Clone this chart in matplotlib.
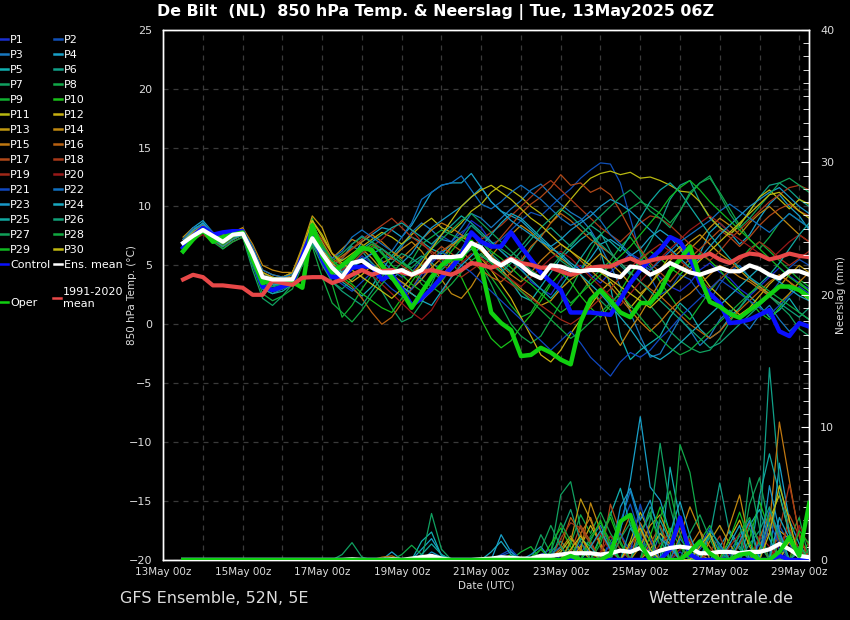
import matplotlib
matplotlib.use('Agg')
import matplotlib.pyplot as plt
import matplotlib.dates as mdates
from matplotlib.lines import Line2D
from matplotlib.ticker import MultipleLocator
import pandas as pd

# time axis: 13May 12Z onwards, one value every 6 h
times = pd.date_range('2025-05-13 12:00', periods=64, freq='6h')

# ---------------- 850 hPa temperature (degC), members ----------------
t_p01 = [6.8, 7.8, 8.2, 7.5, 7.2, 7.8, 7.7, 5.0, 3.4, 3.0, 3.3, 4.0, 6.0, 7.8, 5.6, 4.2,
         4.5, 5.0, 5.8, 5.2, 4.3, 4.0, 3.5, 3.0, 3.8, 5.2, 6.0, 6.8, 7.5, 8.8, 8.2, 7.0,
         6.2, 5.5, 4.8, 3.6, 3.0, 2.5, 3.8, 4.6, 5.0, 4.2, 3.5, 4.4, 5.2, 6.0, 5.5, 4.8,
         4.0, 3.2, 2.8, 3.5, 4.6, 5.2, 4.4, 3.9, 3.0, 2.4, 3.2, 4.0, 4.8, 4.1, 3.5, 3.0]
t_p02 = [7.0, 8.0, 8.5, 7.8, 7.0, 7.5, 7.9, 6.0, 3.8, 3.2, 3.0, 3.6, 5.2, 7.0, 6.0, 4.8,
         4.2, 4.8, 5.5, 6.0, 5.4, 4.6, 4.0, 4.4, 5.5, 6.6, 7.5, 7.0, 7.8, 8.4, 7.6, 6.8,
         7.2, 8.0, 8.8, 9.5, 9.2, 10.0, 10.8, 11.5, 12.4, 13.1, 13.7, 13.6, 12.0, 9.0, 6.0, 4.0,
         2.5, 3.0, 4.2, 3.8, 2.6, 2.0, 3.4, 4.5, 5.0, 4.0, 3.2, 2.5, 3.6, 4.8, 5.5, 5.0]
t_p03 = [6.5, 7.6, 8.3, 7.2, 6.8, 7.4, 7.5, 5.2, 3.0, 2.6, 3.0, 3.8, 5.8, 8.6, 6.8, 5.0,
         5.5, 6.8, 7.5, 7.0, 6.0, 5.5, 6.6, 7.8, 8.6, 8.0, 7.2, 7.0, 8.2, 9.4, 9.0, 8.2,
         9.0, 9.8, 10.5, 11.4, 11.9, 11.0, 10.2, 9.5, 9.0, 8.0, 6.6, 5.0, 3.2, 1.0, -1.0, -2.8,
         -2.5, -1.0, 0.5, -0.5, -1.8, -1.0, 0.4, 1.2, 0.5, -0.4, 0.8, 1.6, 0.4, -0.6, 0.2, -0.2]
t_p04 = [7.2, 8.2, 8.8, 7.8, 7.2, 7.6, 7.8, 6.2, 4.0, 3.6, 3.2, 3.8, 5.0, 7.2, 6.2, 5.0,
         4.6, 5.6, 7.0, 7.6, 8.2, 8.0, 7.4, 8.4, 9.8, 11.2, 11.8, 12.0, 12.0, 12.8, 11.6, 10.4,
         9.6, 9.2, 8.8, 8.0, 7.2, 6.4, 6.0, 5.2, 4.6, 5.6, 6.8, 7.2, 6.6, 5.8, 6.4, 7.4,
         8.0, 7.4, 6.4, 5.2, 6.0, 7.8, 8.6, 7.8, 6.8, 7.6, 9.0, 10.2, 11.0, 10.0, 9.2, 8.0]
t_p05 = [6.6, 7.6, 8.6, 7.6, 7.0, 7.6, 7.8, 5.4, 3.6, 3.2, 3.8, 4.4, 6.2, 7.2, 5.4, 4.4,
         3.6, 3.0, 2.4, 3.2, 4.6, 5.8, 6.8, 7.4, 7.0, 6.4, 6.0, 6.8, 7.4, 7.8, 6.6, 5.6,
         4.8, 3.6, 2.4, 2.0, 3.2, 4.4, 5.6, 6.4, 7.2, 7.8, 6.2, 3.2, -1.0, -3.0, -2.2, -1.6,
         -1.0, 0.6, 1.8, 1.0, -0.4, -1.2, -0.6, 0.6, 1.4, 2.4, 1.6, 0.6, 1.2, 2.2, 1.0, 0.4]
t_p06 = [6.4, 7.4, 8.0, 7.4, 6.8, 7.2, 7.6, 6.0, 4.4, 3.8, 3.4, 3.6, 5.0, 6.8, 6.0, 5.0,
         5.6, 6.6, 6.2, 5.2, 4.4, 3.8, 4.6, 5.2, 5.8, 5.2, 4.6, 5.4, 6.4, 7.6, 7.0, 6.0,
         5.2, 4.4, 5.2, 6.4, 7.6, 8.2, 7.4, 6.6, 7.6, 8.4, 7.8, 6.2, 5.0, 4.2, 5.6, 7.0,
         8.6, 10.6, 11.8, 12.2, 10.4, 9.0, 8.2, 7.6, 8.4, 9.6, 10.8, 11.8, 12.0, 11.4, 10.6, 10.0]
t_p07 = [6.0, 7.2, 8.4, 7.6, 6.4, 7.0, 7.4, 4.6, 2.2, 1.6, 2.4, 3.4, 5.6, 7.6, 5.2, 3.6,
         3.0, 3.8, 4.6, 4.2, 2.8, 1.4, 0.2, 0.6, 1.8, 3.4, 5.2, 6.6, 7.2, 8.4, 7.6, 7.0,
         6.4, 5.8, 6.6, 7.6, 7.0, 6.2, 5.4, 4.8, 4.2, 3.0, 2.0, 1.2, 2.4, 3.4, 2.6, 1.6,
         0.6, -0.6, -1.4, -2.0, -2.4, -2.2, -1.2, 0.2, 1.4, 2.6, 3.2, 2.4, 1.6, 0.8, -0.4, -1.0]
t_p08 = [6.6, 7.8, 8.0, 7.6, 7.4, 7.6, 8.0, 6.4, 3.8, 3.4, 3.8, 4.2, 6.4, 8.0, 6.6, 5.4,
         4.6, 5.2, 6.0, 6.6, 6.2, 5.0, 4.4, 5.4, 6.8, 7.4, 8.0, 7.6, 7.2, 6.6, 5.0, 3.4,
         1.6, 0.0, -1.0, -1.6, -1.0, 0.4, 1.8, 3.0, 4.6, 6.2, 7.6, 8.4, 9.2, 9.8, 10.4, 10.0,
         9.4, 8.6, 9.6, 11.0, 12.0, 12.4, 11.2, 9.8, 8.4, 7.2, 6.4, 7.4, 8.6, 9.4, 8.8, 8.2]
t_p09 = [6.2, 7.2, 7.8, 7.0, 6.6, 7.2, 7.6, 5.8, 3.2, 2.8, 3.0, 3.4, 6.0, 9.0, 6.2, 3.4,
         0.6, 1.6, 3.0, 4.2, 5.6, 6.2, 5.4, 4.6, 3.4, 2.8, 3.6, 4.8, 6.0, 6.6, 5.2, 4.0,
         2.8, 1.6, 0.6, 1.0, 2.4, 3.6, 2.8, 1.8, 2.6, 3.8, 4.6, 5.4, 6.6, 7.4, 6.2, 5.0,
         3.6, 2.4, 1.2, 0.4, 1.6, 2.8, 3.8, 4.6, 5.4, 6.4, 7.0, 6.2, 5.4, 4.6, 3.8, 3.2]
t_p10 = [6.4, 7.4, 8.0, 7.2, 6.8, 7.4, 7.8, 5.6, 3.6, 3.4, 3.6, 3.8, 5.6, 7.4, 5.4, 4.2,
         4.0, 3.4, 2.6, 2.0, 1.4, 1.0, 2.2, 3.6, 4.8, 5.6, 6.2, 5.4, 4.0, 2.2, 0.4, -1.2,
         -2.0, -1.4, -0.2, 0.8, 2.0, 3.4, 4.4, 3.6, 2.4, 1.4, 0.6, 1.6, 2.8, 4.2, 5.4, 6.2,
         5.6, 4.8, 4.2, 5.2, 6.0, 5.4, 4.6, 3.6, 2.8, 2.0, 1.0, 0.4, 1.4, 2.6, 3.6, 2.8]
t_p11 = [7.0, 7.8, 8.2, 7.4, 7.2, 7.8, 7.6, 5.6, 4.0, 3.8, 4.0, 4.4, 6.4, 8.8, 7.6, 6.0,
         5.4, 6.0, 6.6, 7.2, 7.8, 7.4, 6.8, 7.6, 8.4, 9.0, 8.2, 7.8, 8.6, 9.6, 10.2, 11.2,
         11.8, 11.4, 10.8, 10.0, 9.4, 8.6, 9.6, 10.6, 11.6, 12.4, 12.8, 13.0, 12.7, 12.9, 12.4, 12.5,
         12.2, 11.8, 11.3, 11.2, 10.4, 9.1, 8.2, 7.6, 8.4, 9.6, 10.8, 11.4, 10.6, 9.8, 10.6, 10.2]
t_p12 = [6.8, 7.6, 8.0, 7.2, 6.6, 7.2, 7.6, 6.2, 4.2, 3.6, 3.4, 4.0, 5.8, 7.6, 6.4, 5.2,
         4.4, 3.6, 4.2, 5.0, 4.6, 3.8, 3.2, 2.6, 2.0, 2.8, 4.0, 5.2, 5.8, 6.4, 5.6, 4.6,
         3.4, 2.2, 0.6, -1.0, -2.6, -3.2, -2.2, -0.8, 0.4, 1.6, 2.8, 3.6, 2.6, 1.4, 2.4, 3.4,
         4.6, 5.8, 6.6, 5.6, 4.4, 3.2, 2.4, 1.6, 0.8, 1.4, 2.4, 3.4, 4.2, 3.6, 2.8, 2.0]
t_p13 = [7.4, 8.2, 8.0, 7.6, 7.6, 8.0, 7.8, 6.4, 4.6, 4.2, 4.0, 4.4, 6.6, 9.2, 8.2, 6.0,
         5.0, 5.8, 6.4, 5.6, 4.6, 4.2, 3.6, 3.0, 3.8, 4.8, 5.6, 6.6, 7.4, 7.0, 6.2, 5.4,
         4.6, 3.8, 3.0, 2.4, 1.6, 2.0, 3.0, 3.8, 4.4, 5.2, 6.0, 5.2, 4.4, 3.4, 2.6, 3.4,
         4.4, 5.4, 6.2, 7.0, 7.6, 6.8, 6.0, 5.4, 4.6, 3.8, 3.2, 2.6, 3.2, 4.2, 5.0, 4.4]
t_p14 = [7.2, 8.0, 7.8, 7.4, 7.4, 7.8, 8.2, 6.8, 5.0, 4.6, 4.4, 4.4, 6.2, 8.4, 7.0, 5.6,
         6.4, 7.2, 6.8, 6.0, 5.2, 5.6, 6.4, 7.0, 6.2, 5.0, 3.8, 2.6, 2.2, 3.2, 4.6, 5.8,
         6.8, 7.6, 8.4, 7.8, 7.0, 6.2, 5.6, 5.0, 4.2, 3.0, 1.8, -0.6, -1.8, -0.4, 0.8, 2.2,
         3.6, 4.4, 5.4, 6.4, 7.2, 8.2, 9.0, 8.4, 7.6, 8.6, 9.4, 10.0, 9.2, 8.4, 7.6, 7.0]
t_p15 = [7.0, 7.8, 8.4, 7.6, 7.0, 7.4, 7.6, 5.8, 3.8, 3.6, 3.8, 4.2, 5.8, 7.2, 6.0, 5.2,
         5.8, 6.4, 7.0, 7.6, 7.0, 6.2, 5.6, 6.4, 7.2, 8.0, 8.6, 8.2, 7.6, 7.0, 6.4, 5.8,
         5.0, 4.2, 3.6, 4.4, 5.4, 6.2, 6.8, 6.2, 5.4, 4.6, 3.8, 3.2, 2.2, 1.2, 0.2, -0.6,
         0.2, 1.2, 2.0, 2.6, 3.4, 4.2, 5.0, 4.6, 4.0, 3.6, 3.0, 2.4, 1.8, 2.6, 3.6, 4.4]
t_p16 = [6.6, 7.4, 7.8, 7.0, 6.8, 7.4, 7.8, 6.0, 4.2, 3.8, 3.6, 3.8, 5.4, 7.0, 5.8, 4.6,
         3.8, 3.2, 2.2, 1.0, 0.0, 0.6, 1.8, 3.0, 4.4, 5.4, 6.2, 6.8, 6.2, 5.4, 4.6, 4.0,
         3.6, 4.4, 5.4, 6.6, 7.4, 8.6, 9.4, 8.8, 8.0, 7.2, 6.6, 6.0, 5.2, 4.4, 3.6, 3.0,
         2.4, 1.6, 0.8, 0.0, -0.6, -1.2, -0.6, 0.4, 1.2, 2.0, 2.8, 3.6, 4.2, 3.6, 3.0, 2.4]
t_p17 = [6.8, 7.6, 8.0, 7.4, 7.0, 7.6, 7.8, 6.2, 4.0, 3.6, 3.4, 3.8, 5.6, 7.8, 6.8, 5.6,
         5.0, 5.6, 6.2, 6.8, 6.4, 5.6, 5.0, 4.4, 5.0, 5.8, 6.6, 6.0, 5.4, 5.0, 5.6, 6.4,
         7.4, 8.4, 9.4, 10.2, 10.8, 11.6, 12.7, 11.8, 12.0, 11.2, 11.6, 11.0, 9.6, 8.0, 6.4, 5.2,
         4.4, 3.6, 4.6, 5.6, 6.4, 7.2, 8.0, 7.4, 6.6, 7.4, 8.4, 9.2, 9.8, 10.2, 9.6, 9.2]
t_p18 = [7.0, 7.8, 8.2, 7.6, 7.2, 7.6, 8.0, 6.4, 4.4, 4.0, 3.8, 4.0, 5.8, 8.2, 7.2, 6.0,
         5.6, 6.4, 7.2, 7.8, 8.4, 9.0, 8.2, 7.4, 6.8, 6.2, 5.6, 5.0, 5.8, 6.6, 7.2, 7.8,
         8.4, 9.2, 10.0, 10.8, 11.6, 12.2, 11.4, 10.6, 9.8, 9.0, 8.2, 7.6, 7.0, 7.8, 8.6, 9.2,
         9.0, 8.4, 7.6, 6.8, 6.2, 5.4, 6.2, 7.2, 8.0, 8.8, 9.6, 10.4, 11.0, 11.6, 11.8, 11.4]
t_p19 = [6.6, 7.4, 7.8, 7.2, 6.8, 7.2, 7.6, 5.8, 3.8, 3.4, 3.6, 3.8, 5.4, 7.0, 6.2, 5.0,
         4.6, 5.2, 6.0, 6.6, 7.2, 8.0, 8.8, 8.0, 7.0, 6.0, 5.2, 4.4, 4.0, 4.6, 5.2, 4.6,
         4.0, 3.4, 2.8, 2.2, 1.6, 1.0, 0.4, 0.0, 0.6, 1.4, 2.2, 3.0, 4.0, 4.8, 5.6, 6.2,
         6.8, 6.2, 5.4, 4.6, 3.8, 3.0, 3.8, 4.6, 5.4, 6.2, 7.0, 6.4, 5.6, 5.0, 5.6, 6.2]
t_p20 = [6.4, 7.2, 7.6, 7.0, 6.6, 7.0, 7.4, 5.4, 3.4, 3.0, 3.2, 3.6, 5.2, 6.6, 5.6, 4.4,
         3.6, 4.2, 4.8, 4.2, 3.4, 2.6, 1.8, 1.0, 0.4, 1.2, 2.6, 4.0, 5.2, 6.0, 5.6, 5.0,
         4.4, 3.8, 3.2, 4.0, 4.8, 5.6, 6.2, 5.6, 4.8, 4.0, 3.2, 2.4, 1.6, 2.6, 3.6, 4.6,
         5.6, 6.4, 7.2, 8.0, 8.6, 9.2, 8.6, 7.8, 7.2, 6.6, 6.0, 5.4, 6.2, 7.0, 7.6, 7.0]
t_p21 = [6.8, 7.8, 8.6, 7.8, 7.2, 7.6, 7.8, 5.4, 3.2, 2.8, 3.0, 3.6, 5.8, 7.6, 5.4, 4.0,
         3.4, 2.8, 3.6, 4.4, 3.8, 3.0, 2.4, 3.0, 4.2, 5.4, 6.2, 5.6, 5.0, 4.4, 3.6, 2.8,
         2.0, 1.2, 0.4, -0.6, -1.4, -2.2, -1.4, -0.6, -1.6, -2.8, -3.6, -4.4, -3.2, -2.4, -2.8, -2.2,
         -1.2, -0.4, 0.6, 1.4, 2.2, 3.0, 3.8, 3.2, 2.6, 2.0, 1.4, 0.8, 1.6, 2.4, 3.2, 2.6]
t_p22 = [7.2, 8.2, 8.4, 7.6, 7.4, 7.8, 8.0, 6.6, 4.6, 4.2, 4.0, 4.2, 6.0, 7.4, 6.4, 5.6,
         6.2, 7.4, 8.0, 7.4, 6.8, 6.2, 7.4, 8.6, 10.6, 11.2, 11.8, 12.0, 12.6, 11.4, 10.2, 9.8,
         10.4, 11.2, 11.8, 11.2, 10.6, 9.8, 9.0, 8.4, 8.8, 9.6, 8.8, 7.6, 6.8, 6.0, 5.2, 4.6,
         5.4, 6.2, 7.0, 7.6, 8.2, 8.8, 9.6, 10.2, 9.6, 9.0, 8.4, 7.8, 8.6, 9.4, 8.8, 8.2]
t_p23 = [6.6, 7.6, 8.2, 7.4, 7.0, 7.4, 7.6, 5.6, 3.6, 3.2, 3.4, 3.8, 5.6, 7.2, 6.0, 4.8,
         4.2, 4.8, 5.4, 6.0, 6.4, 5.8, 5.2, 6.0, 7.2, 8.2, 8.8, 9.4, 10.0, 10.8, 11.6, 10.4,
         9.6, 8.8, 8.2, 7.6, 7.0, 6.6, 7.2, 8.0, 8.6, 9.2, 10.0, 10.6, 10.2, 9.6, 8.8, 8.0,
         7.2, 6.4, 5.6, 4.8, 5.6, 6.6, 7.6, 8.4, 9.2, 10.0, 10.6, 11.2, 11.6, 10.8, 10.0, 9.4]
t_p24 = [7.0, 8.0, 8.6, 7.6, 7.0, 7.6, 7.8, 6.0, 3.8, 3.4, 3.4, 4.0, 5.8, 7.4, 6.2, 5.0,
         4.4, 5.0, 5.6, 5.0, 4.4, 3.8, 3.2, 2.6, 2.0, 1.6, 2.8, 4.0, 5.0, 5.8, 6.6, 7.6,
         8.6, 9.4, 9.0, 8.2, 7.4, 6.6, 5.8, 5.0, 4.2, 3.4, 2.6, 1.6, 0.6, -0.4, -1.6, -2.6,
         -3.0, -2.4, -1.6, -0.8, 0.0, 0.8, 1.6, 2.4, 3.2, 4.0, 4.8, 4.2, 3.6, 3.0, 2.4, 2.0]
t_p25 = [6.4, 7.4, 8.0, 7.2, 6.6, 7.2, 7.6, 5.2, 3.0, 2.6, 2.8, 3.4, 5.4, 7.0, 5.4, 4.0,
         4.8, 5.6, 6.4, 7.0, 7.6, 8.2, 8.6, 8.0, 7.4, 6.8, 7.6, 8.4, 9.2, 8.6, 7.8, 7.0,
         6.2, 5.4, 4.6, 3.8, 3.0, 2.2, 3.2, 4.4, 5.6, 6.8, 7.6, 7.0, 6.2, 7.6, 9.0, 10.4,
         11.4, 12.0, 11.2, 10.0, 8.8, 7.6, 6.6, 5.6, 4.8, 4.0, 3.4, 4.2, 5.2, 6.4, 7.6, 8.6]
t_p26 = [6.8, 7.6, 8.2, 7.4, 7.0, 7.6, 7.6, 5.4, 3.4, 3.0, 3.2, 3.6, 5.4, 6.8, 5.0, 3.6,
         2.8, 2.2, 1.6, 2.8, 4.0, 5.2, 6.0, 5.6, 5.0, 4.4, 3.8, 4.6, 5.6, 6.4, 5.8, 5.2,
         4.4, 5.2, 6.2, 7.2, 8.2, 9.0, 9.8, 9.2, 8.4, 7.6, 6.8, 6.0, 5.2, 4.4, 3.6, 2.8,
         2.0, 1.2, 0.4, -0.4, -1.2, -2.0, -1.6, -0.8, 0.0, 0.8, 1.6, 2.4, 1.8, 1.2, 0.6, 1.4]
t_p27 = [6.6, 7.6, 8.0, 7.2, 6.8, 7.4, 7.8, 5.8, 3.6, 3.2, 3.4, 3.8, 5.6, 7.6, 6.6, 5.4,
         6.0, 6.8, 7.4, 7.0, 6.4, 5.8, 5.2, 4.8, 5.6, 6.4, 7.2, 8.0, 8.8, 9.4, 8.6, 7.8,
         7.0, 6.2, 5.4, 4.6, 4.0, 4.8, 5.8, 6.8, 7.6, 8.4, 9.2, 10.0, 10.8, 11.4, 10.6, 9.6,
         9.0, 8.2, 9.6, 11.2, 12.0, 12.6, 11.0, 9.4, 8.2, 9.0, 10.0, 11.0, 12.0, 12.4, 11.8, 11.2]
t_p28 = [6.2, 7.2, 7.8, 7.0, 6.4, 7.0, 7.4, 5.0, 2.6, 2.0, 2.4, 3.0, 5.0, 6.6, 4.0, 1.8,
         1.0, 0.2, 1.2, 2.4, 3.4, 4.4, 5.2, 4.6, 3.8, 3.2, 2.6, 3.4, 4.4, 5.4, 6.0, 5.2,
         4.4, 3.6, 2.8, 2.0, 1.2, 0.4, -0.4, -1.2, -0.6, 0.2, 1.0, 1.8, 2.6, 1.6, 0.6, -0.4,
         -1.2, -2.0, -2.6, -2.2, -1.4, -0.6, 0.2, 1.0, 1.8, 2.6, 3.4, 2.8, 2.2, 1.6, 1.0, 0.4]
t_p29 = [6.4, 7.4, 8.2, 7.4, 6.8, 7.4, 7.8, 5.6, 3.4, 3.0, 3.2, 3.6, 6.0, 8.6, 6.8, 5.4,
         4.8, 5.4, 6.2, 6.8, 6.0, 5.0, 4.2, 3.4, 2.8, 3.8, 5.0, 6.2, 7.2, 7.8, 7.0, 6.2,
         5.6, 4.8, 4.0, 3.4, 2.6, 1.8, 1.0, 1.6, 2.6, 3.4, 4.2, 5.0, 5.8, 6.6, 7.6, 8.6,
         9.6, 10.8, 11.6, 12.2, 11.4, 10.4, 9.6, 8.8, 8.0, 7.2, 6.4, 5.6, 4.8, 4.0, 3.4, 2.8]
t_p30 = [7.0, 7.8, 8.4, 7.6, 7.2, 7.6, 7.8, 6.2, 4.4, 4.0, 3.8, 4.0, 6.2, 8.8, 7.4, 6.0,
         5.2, 4.6, 4.0, 3.4, 2.8, 2.2, 3.0, 4.0, 5.2, 6.4, 7.6, 8.8, 10.0, 10.8, 11.4, 11.8,
         11.2, 10.6, 9.8, 9.0, 8.4, 7.6, 6.8, 6.2, 5.6, 5.0, 4.4, 3.8, 3.2, 2.6, 2.0, 1.4,
         2.2, 3.0, 3.8, 4.6, 5.4, 6.2, 7.0, 7.8, 8.6, 9.4, 10.2, 11.0, 11.2, 10.4, 9.6, 9.0]

# control, operational run, ensemble mean, 1991-2020 climate
t_control = [6.5, 7.5, 8.2, 7.6, 7.8, 7.9, 7.9, 5.5, 3.2, 2.9, 3.2, 3.5, 5.8, 8.0, 5.5, 4.0,
             4.0, 4.8, 4.9, 4.9, 3.8, 4.2, 3.0, 1.6, 2.2, 3.0, 4.0, 4.8, 5.9, 7.8, 7.0, 6.6,
             6.6, 7.8, 6.6, 5.5, 4.4, 3.6, 2.9, 1.0, 1.0, 1.0, 0.9, 0.8, 2.1, 3.5, 4.6, 5.5,
             6.3, 7.4, 7.0, 5.7, 3.5, 2.6, 1.8, 0.1, 0.2, 0.4, 0.8, 1.2, -0.6, -1.0, 0.1, -0.2]
t_oper = [6.2, 7.2, 8.0, 7.0, 7.4, 7.6, 7.8, 5.5, 3.5, 3.8, 3.7, 3.6, 3.1, 8.4, 5.8, 4.4,
          5.0, 5.7, 6.5, 6.3, 5.0, 4.0, 2.8, 1.4, 2.7, 4.0, 5.0, 5.6, 5.6, 7.0, 4.9, 1.0,
          0.1, -0.5, -2.7, -2.6, -2.0, -2.4, -3.0, -3.4, 0.2, 2.1, 2.9, 2.0, 1.0, 0.6, 1.8, 1.8,
          2.8, 4.5, 5.5, 6.6, 4.0, 1.9, 1.5, 0.9, 0.55, 1.2, 1.8, 2.5, 3.2, 3.2, 2.9, 2.3]
t_mean = [6.9, 7.5, 8.0, 7.5, 7.0, 7.6, 7.7, 6.0, 4.0, 3.8, 3.8, 3.8, 5.5, 7.3, 6.0, 4.8,
          4.0, 5.2, 5.4, 4.8, 4.4, 4.4, 4.6, 4.2, 4.6, 5.7, 5.7, 5.7, 5.8, 6.9, 6.5, 5.5,
          5.0, 5.5, 5.0, 4.3, 3.9, 5.0, 4.9, 4.6, 4.5, 4.6, 4.6, 4.2, 4.0, 4.9, 4.8, 4.2,
          4.6, 5.2, 4.8, 4.4, 4.2, 4.5, 4.8, 4.5, 4.5, 5.0, 4.7, 4.2, 3.9, 4.5, 4.5, 4.2]
t_clim = [3.8, 4.2, 4.0, 3.3, 3.3, 3.2, 3.1, 2.5, 2.5, 3.7, 3.5, 3.35, 3.95, 4.0, 4.0, 3.5,
          3.8, 4.2, 4.6, 4.2, 4.5, 4.6, 4.4, 4.2, 4.45, 4.6, 4.4, 4.2, 4.6, 5.2, 5.05, 4.8,
          5.1, 5.6, 5.2, 5.05, 4.8, 4.8, 4.5, 4.2, 4.45, 4.8, 4.9, 4.9, 5.3, 5.6, 5.2, 5.4,
          5.6, 5.7, 5.7, 5.7, 5.7, 6.0, 5.5, 5.2, 5.7, 6.0, 5.9, 5.5, 5.7, 6.0, 5.8, 5.7]

# ---------------- precipitation (mm / 6 h), members ----------------
r_p01 = [0, 0, 0, 0, 0, 0, 0, 0, 0, 0, 0, 0, 0, 0, 0, 0, 0, 0, 0, 0, 0, 0, 0, 0, 0, 0, 0, 0, 0, 0, 0, 0,
         0, 0, 0, 0, 0.4, 0.8, 0, 0, 1.2, 0.6, 0, 0, 0, 0.8, 1.6, 0.4, 0, 0, 0.6, 0, 0, 0, 0, 0.4, 0, 0, 1.2, 2.0, 0.8, 0, 0, 0]
r_p02 = [0, 0, 0, 0, 0, 0, 0, 0, 0, 0, 0, 0, 0, 0, 0, 0, 0, 0, 0, 0, 0, 0, 0, 0, 0, 0, 0, 0, 0, 0, 0, 0,
         0.3, 0.6, 0, 0, 0, 0, 0, 0, 0, 0, 0, 1.4, 2.4, 4.2, 1.8, 0.6, 0, 0, 0, 0, 0.8, 1.8, 0.6, 0, 0, 0, 0, 0, 2.6, 1.2, 0, 0]
r_p03 = [0, 0, 0, 0, 0, 0, 0, 0, 0, 0, 0, 0, 0, 0, 0, 0, 0, 0, 0, 0, 0, 0, 0, 0, 0, 0, 0, 0, 0, 0, 0, 0,
         0, 0, 0, 0, 0, 0, 0, 0, 0.5, 1.6, 2.6, 1.0, 0, 0, 0, 0, 2.0, 1.0, 0, 0, 0, 0, 0, 0.6, 1.8, 2.8, 1.2, 0, 0, 0, 0.8, 0]
r_p04 = [0, 0, 0, 0, 0, 0, 0, 0, 0, 0, 0, 0, 0, 0, 0, 0, 0, 0, 0, 0, 0, 0.6, 0, 0, 0.8, 1.6, 0.4, 0, 0, 0, 0, 0,
         1.9, 0.6, 0, 0, 0, 0, 0, 0, 0, 0, 0, 0, 2.2, 6.0, 10.8, 5.5, 4.5, 2.0, 0, 0, 0, 0, 1.0, 2.2, 1.0, 0, 0, 0, 7.3, 3.0, 1.2, 0]
r_p05 = [0, 0, 0, 0, 0, 0, 0, 0, 0, 0, 0, 0, 0, 0, 0, 0, 0, 0, 0, 0, 0, 0, 0, 0, 1.4, 2.1, 0.3, 0, 0, 0, 0, 0,
         0, 0, 0, 0, 0, 0, 0, 0, 0, 0, 1.8, 3.4, 5.4, 2.6, 1.0, 0, 0, 7.0, 3.0, 1.2, 0, 0, 0, 0, 0, 2.6, 3.8, 1.6, 0, 0, 0.6, 0]
r_p06 = [0, 0, 0, 0, 0, 0, 0, 0, 0, 0, 0, 0, 0, 0, 0, 0, 0, 0, 0, 0, 0, 0, 0, 0, 0, 0, 0, 0, 0, 0, 0, 0,
         0, 0, 0, 0, 0, 0.6, 1.4, 0.6, 0, 0, 0, 0, 0, 0, 1.6, 4.0, 2.4, 0, 0, 0, 0, 1.8, 5.8, 2.0, 0.8, 0, 1.4, 14.5, 6.0, 2.2, 0.8, 0]
r_p07 = [0, 0, 0, 0, 0, 0, 0, 0, 0, 0, 0, 0, 0, 0, 0, 0, 0.4, 1.3, 0.2, 0, 0, 0, 0, 0, 0, 3.5, 0.8, 0, 0, 0, 0, 0,
         0, 0, 0, 0, 1.9, 0.5, 4.9, 5.9, 2.4, 1.2, 0, 0, 0, 0, 0, 3.0, 8.8, 4.0, 1.2, 0, 0, 0, 0, 0, 0, 6.2, 2.4, 0, 0, 0, 0, 0]
r_p08 = [0, 0, 0, 0, 0, 0, 0, 0, 0, 0, 0, 0, 0, 0, 0, 0, 0, 0, 0, 0, 0, 0, 0.4, 1.1, 0.4, 0, 0, 0, 0, 0, 0, 0,
         0, 0, 0, 0, 0, 0, 0, 1.2, 3.4, 2.0, 3.6, 2.0, 0.8, 0, 0, 0, 0, 0, 8.7, 6.6, 2.2, 0, 0, 0, 1.2, 2.4, 0, 0, 0, 1.6, 3.2, 0]
r_p09 = [0, 0, 0, 0, 0, 0, 0, 0, 0, 0, 0, 0, 0, 0, 0, 0, 0, 0, 0, 0, 0, 0, 0, 0, 0, 0, 0, 0, 0, 0, 0, 0,
         0, 0, 0.6, 1.0, 0, 0, 0, 0, 0, 1.8, 2.8, 1.4, 0, 0, 2.0, 3.6, 1.0, 0, 0, 0, 1.4, 2.6, 0.8, 0, 0, 0, 0, 3.4, 1.8, 0, 0, 0]
r_p10 = [0, 0, 0, 0, 0, 0, 0, 0, 0, 0, 0, 0, 0, 0, 0, 0, 0, 0, 0, 0, 0, 0, 0, 0, 0, 0, 0, 0, 0, 0, 0, 0,
         0, 0.4, 0, 0, 0, 1.2, 2.4, 1.0, 0, 0, 1.6, 3.2, 1.2, 0, 0, 0, 0.8, 2.4, 1.0, 0, 0, 0, 0, 0, 0, 1.6, 4.4, 2.2, 0, 0, 0, 1.4]
r_p11 = [0, 0, 0, 0, 0, 0, 0, 0, 0, 0, 0, 0, 0, 0, 0, 0, 0, 0, 0, 0, 0, 0, 0, 0, 0, 0, 0, 0, 0, 0, 0, 0,
         0, 0, 0, 0, 0, 0, 0.6, 1.6, 0.8, 0, 0, 0, 0, 1.4, 3.6, 2.0, 0, 0, 0, 0, 0.4, 0, 0, 0, 0, 0, 0.8, 3.0, 4.9, 2.0, 0, 0]
r_p12 = [0, 0, 0, 0, 0, 0, 0, 0, 0, 0, 0, 0, 0, 0, 0, 0, 0, 0, 0, 0, 0, 0, 0, 0, 0, 0, 0, 0, 0, 0, 0, 0,
         0, 0, 0, 0, 0, 0, 0, 0, 1.0, 2.6, 1.2, 0, 0, 0, 0, 0.8, 2.0, 1.2, 0, 0, 0, 0, 0, 1.6, 3.0, 1.0, 0, 0, 0, 1.4, 0, 0]
r_p13 = [0, 0, 0, 0, 0, 0, 0, 0, 0, 0, 0, 0, 0, 0, 0, 0, 0, 0, 0, 0, 0, 0, 0, 0, 0, 0, 0, 0, 0, 0, 0, 0,
         0, 0, 0, 0, 0, 0, 0, 1.4, 4.6, 3.0, 1.2, 0, 0, 0, 1.0, 2.6, 3.4, 1.6, 0, 0, 0, 1.4, 2.6, 1.2, 0, 0, 0, 0, 2.2, 1.6, 0, 0]
r_p14 = [0, 0, 0, 0, 0, 0, 0, 0, 0, 0, 0, 0, 0, 0, 0, 0, 0, 0, 0, 0, 0, 0, 0, 0, 0, 0, 0, 0, 0, 0, 0, 0,
         0, 0, 0, 0, 0, 0, 0.8, 1.8, 0.6, 4.3, 2.2, 0.8, 0, 0, 0, 0, 0, 0, 1.8, 4.0, 2.2, 0, 0, 2.6, 4.9, 1.2, 0, 0, 0, 0, 1.0, 0]
r_p15 = [0, 0, 0, 0, 0, 0, 0, 0, 0, 0, 0, 0, 0, 0, 0, 0, 0, 0, 0, 0, 0.2, 0.3, 0, 0, 0, 0, 0, 0, 0, 0, 0, 0,
         0, 0, 0, 0, 0, 0, 0, 0, 2.0, 3.2, 1.0, 0, 0, 0, 2.8, 1.4, 0, 0, 0, 1.0, 2.2, 1.0, 0, 0, 0, 0, 0, 2.6, 10.4, 6.0, 1.8, 0]
r_p16 = [0, 0, 0, 0, 0, 0, 0, 0, 0, 0, 0, 0, 0, 0, 0, 0, 0, 0, 0, 0, 0, 0, 0, 0, 0, 0, 0, 0, 0, 0, 0, 0,
         0, 0, 0, 0, 0, 0, 1.0, 3.2, 2.0, 0, 0, 0, 1.6, 3.4, 1.4, 0, 0, 0.8, 2.4, 1.4, 0, 0, 0, 0, 0, 0, 1.6, 3.6, 1.4, 0, 0, 0]
r_p17 = [0, 0, 0, 0, 0, 0, 0, 0, 0, 0, 0, 0, 0, 0, 0, 0, 0, 0, 0, 0, 0, 0, 0, 0, 0, 0, 0, 0, 0, 0, 0, 0,
         0, 0, 0, 0, 0, 0, 0, 0.6, 2.6, 1.4, 0, 4.2, 2.0, 0, 0, 1.2, 2.6, 0.8, 0, 0, 0, 0, 0, 0, 1.2, 2.8, 1.4, 0, 0, 3.4, 1.8, 0]
r_p18 = [0, 0, 0, 0, 0, 0, 0, 0, 0, 0, 0, 0, 0, 0, 0, 0, 0, 0, 0, 0, 0, 0, 0, 0, 0, 0, 0, 0, 0, 0, 0, 0,
         0, 0, 0, 0, 0, 0, 1.6, 2.8, 2.4, 1.2, 0, 0, 0, 1.0, 2.2, 0.8, 0, 0, 0, 0, 0, 0.6, 1.8, 0, 0, 0, 0, 0, 2.2, 5.7, 2.0, 0]
r_p19 = [0, 0, 0, 0, 0, 0, 0, 0, 0, 0, 0, 0, 0, 0, 0, 0, 0, 0, 0, 0, 0, 0, 0, 0, 0, 0, 0, 0, 0, 0, 0, 0,
         0, 0, 0, 0, 0, 0, 0, 0, 0, 0, 0.6, 1.8, 0.8, 0, 0, 0, 1.2, 2.0, 0, 0, 0, 0, 0, 1.0, 2.0, 0, 0, 0, 1.2, 2.4, 0.8, 0]
r_p20 = [0, 0, 0, 0, 0, 0, 0, 0, 0, 0, 0, 0, 0, 0, 0, 0, 0, 0, 0, 0, 0, 0, 0, 0, 0, 0, 0, 0, 0, 0, 0, 0,
         0, 0, 0, 0, 0, 0, 0, 0, 0, 1.0, 2.0, 0.6, 0, 0, 0, 0, 0, 0, 0.8, 1.6, 0, 0, 0, 0, 0, 0, 1.8, 1.0, 0, 0, 2.6, 1.0]
r_p21 = [0, 0, 0, 0, 0, 0, 0, 0, 0, 0, 0, 0, 0, 0, 0, 0, 0, 0, 0, 0, 0, 0, 0, 0, 0, 0, 0, 0, 0, 0, 0, 0,
         0.4, 0.8, 0, 0, 0, 0, 0, 0, 0, 0, 0, 1.2, 2.0, 0.6, 4.2, 1.6, 0, 0, 0, 0, 1.0, 2.4, 1.0, 0, 0, 0, 0, 2.8, 1.2, 0, 0, 0]
r_p22 = [0, 0, 0, 0, 0, 0, 0, 0, 0, 0, 0, 0, 0, 0, 0, 0, 0, 0, 0, 0, 0, 0, 0, 0, 0, 0, 0, 0, 0, 0, 0, 0,
         0, 0, 0, 0, 0, 0.4, 1.0, 0, 0, 0, 0, 0, 2.8, 5.2, 2.6, 0.8, 0, 0, 1.6, 0.6, 0, 0, 0, 0, 0, 0, 0, 3.8, 2.0, 0, 0, 0]
r_p23 = [0, 0, 0, 0, 0, 0, 0, 0, 0, 0, 0, 0, 0, 0, 0, 0, 0, 0, 0, 0, 0, 0, 0, 0, 0, 0.6, 0.2, 0, 0, 0, 0, 0,
         0, 0, 0, 0.4, 1.0, 0, 0, 0, 0, 0, 0, 0, 4.0, 5.4, 3.0, 4.5, 1.6, 1.0, 0, 0, 0, 0, 0, 0, 1.4, 3.0, 0, 5.6, 2.2, 0, 0, 0]
r_p24 = [0, 0, 0, 0, 0, 0, 0, 0, 0, 0, 0, 0, 0, 0, 0, 0, 0, 0, 0, 0, 0, 0, 0, 0, 0, 0, 0, 0, 0, 0, 0, 0.6,
         1.4, 0.4, 0, 0, 0, 0, 0, 0, 0, 1.0, 2.2, 0.8, 0, 0, 0, 0, 0, 2.0, 4.4, 1.8, 0, 0, 0, 1.2, 2.6, 0, 0, 0, 3.2, 1.6, 0, 0]
r_p25 = [0, 0, 0, 0, 0, 0, 0, 0, 0, 0, 0, 0, 0, 0, 0, 0, 0, 0, 0, 0, 0, 0, 0, 0, 0.4, 1.2, 0.4, 0, 0, 0, 0, 0,
         0, 0, 0, 0, 0, 0, 0, 0, 1.6, 1.0, 0, 0, 0, 2.4, 1.2, 0, 3.0, 1.4, 0, 0, 0, 2.2, 1.2, 0, 0, 0, 4.8, 8.0, 5.0, 2.0, 0, 0]
r_p26 = [0, 0, 0, 0, 0, 0, 0, 0, 0, 0, 0, 0, 0, 0, 0, 0, 0, 0, 0, 0, 0, 0, 0, 0, 0, 0, 0, 0, 0, 0, 0, 0,
         0, 0, 0, 0, 0, 0, 2.0, 3.8, 1.4, 0, 0, 0, 0, 0, 2.0, 3.4, 1.6, 0, 0, 0, 1.2, 2.0, 0.6, 0, 0, 1.2, 2.2, 4.0, 1.6, 0, 0, 0]
r_p27 = [0, 0, 0, 0, 0, 0, 0, 0, 0, 0, 0, 0, 0, 0, 0, 0, 0, 0, 0, 0, 0, 0, 0, 0, 0, 0, 0, 0, 0, 0, 0, 0,
         0, 0, 0, 0, 0.8, 2.6, 1.0, 0, 0, 0, 0, 0, 1.6, 2.8, 1.2, 0, 0, 0, 0, 2.0, 3.4, 1.6, 0, 0, 0, 4.2, 6.2, 2.4, 0, 0, 1.0, 0]
r_p28 = [0, 0, 0, 0, 0, 0, 0, 0, 0, 0, 0, 0, 0, 0, 0, 0, 0, 0, 0, 0, 0, 0, 0, 0, 0, 0, 0, 0, 0, 0, 0, 0,
         0, 0, 0, 0, 0, 0.6, 2.8, 1.4, 0, 0, 1.2, 3.6, 1.4, 0, 0, 0, 3.2, 5.2, 2.0, 0, 0, 0, 0, 0, 2.0, 3.2, 1.2, 0, 0, 0, 0, 0.8]
r_p29 = [0, 0, 0, 0, 0, 0, 0, 0, 0, 0, 0, 0, 0, 0, 0, 0, 0, 0, 0, 0, 0, 0, 0, 0, 0, 0, 0, 0, 0, 0, 0, 0,
         0, 0, 0, 0.2, 0.8, 0, 0, 0, 0, 1.4, 3.0, 1.0, 0, 0, 0, 1.8, 4.0, 2.0, 0, 0, 0, 0, 0, 1.6, 3.6, 1.4, 0, 0, 0, 0, 2.2, 1.2]
r_p30 = [0, 0, 0, 0, 0, 0, 0, 0, 0, 0, 0, 0, 0, 0, 0, 0, 0, 0, 0, 0, 0, 0, 0, 0, 0, 0, 0, 0, 0, 0, 0, 0,
         0, 0, 0, 0, 0, 0, 0, 0.8, 1.8, 0.6, 0, 0, 0, 1.2, 2.4, 0.8, 0, 0, 0, 0, 1.0, 2.0, 0, 0, 0, 0, 0, 2.0, 5.6, 3.0, 0, 0]

r_control = [0, 0, 0, 0, 0, 0, 0, 0, 0, 0, 0, 0, 0, 0, 0, 0, 0, 0, 0, 0, 0, 0, 0, 0, 0, 0, 0, 0, 0, 0, 0, 0,
             0, 0, 0, 0, 0, 0, 0, 0, 0, 0, 0, 0, 0, 0, 0, 0, 0, 0.8, 3.2, 0.4, 0, 0, 0, 0, 0, 0, 0, 0, 0.3, 0, 0, 0]
r_oper = [0, 0, 0, 0, 0, 0, 0, 0, 0, 0, 0, 0, 0, 0, 0, 0, 0, 0, 0, 0, 0, 0, 0, 0, 0, 0, 0, 0, 0, 0, 0, 0,
          0, 0, 0, 0, 0, 0, 0, 0.3, 0, 0, 0, 0.4, 2.9, 3.4, 1.2, 0, 0, 0, 0, 0.6, 1.4, 0.5, 0, 0, 0.4, 0.5, 0, 0, 0.6, 1.7, 0.3, 4.3]
r_mean = [0, 0, 0, 0, 0, 0, 0, 0, 0, 0, 0, 0, 0, 0, 0, 0, 0, 0.05, 0, 0, 0, 0.05, 0, 0.1, 0.2, 0.3, 0.1, 0, 0, 0, 0.05, 0.1,
          0.2, 0.15, 0.1, 0.1, 0.3, 0.3, 0.4, 0.5, 0.5, 0.5, 0.4, 0.5, 0.7, 0.6, 0.9, 0.4, 0.7, 0.9, 1.0, 0.9, 0.5, 0.5, 0.6, 0.6,
          0.5, 0.6, 0.6, 0.8, 1.2, 0.8, 0.3, 0.2]

member_temps = [t_p01, t_p02, t_p03, t_p04, t_p05, t_p06, t_p07, t_p08, t_p09, t_p10,
                t_p11, t_p12, t_p13, t_p14, t_p15, t_p16, t_p17, t_p18, t_p19, t_p20,
                t_p21, t_p22, t_p23, t_p24, t_p25, t_p26, t_p27, t_p28, t_p29, t_p30]
member_rain = [r_p01, r_p02, r_p03, r_p04, r_p05, r_p06, r_p07, r_p08, r_p09, r_p10,
               r_p11, r_p12, r_p13, r_p14, r_p15, r_p16, r_p17, r_p18, r_p19, r_p20,
               r_p21, r_p22, r_p23, r_p24, r_p25, r_p26, r_p27, r_p28, r_p29, r_p30]

member_colors = ['#1a2fd0', '#1050b8', '#1878c0', '#18a0c8', '#10b0b0', '#10a088', '#10a060', '#10a848',
                 '#10b030', '#18c018', '#b8b810', '#c8b010', '#c09810', '#c08810', '#c07810', '#b86010',
                 '#b04818', '#a83818', '#a02818', '#981818', '#1048c0', '#1070c0', '#1898c8', '#18a8c0',
                 '#10a8a0', '#10a078', '#10a058', '#10a840', '#10b820', '#c0b810']
member_names = ['P%d' % (i + 1) for i in range(30)]

C_CONTROL = '#0a10ff'
C_OPER = '#10d010'
C_MEAN = '#ffffff'
C_CLIM = '#e84848'
TXT = '#dcdcdc'
GRID = '#3a3a3a'

fig = plt.figure(figsize=(8.5, 6.2), dpi=100, facecolor='black')
ax = fig.add_axes([0.192, 0.097, 0.760, 0.855], facecolor='black')
ax2 = ax.twinx()

# temperature lines
for temps, col in zip(member_temps, member_colors):
    ax.plot(times, temps, color=col, lw=0.9, zorder=2)
ax.plot(times, t_control, color=C_CONTROL, lw=3.2, zorder=3)
ax.plot(times, t_oper, color=C_OPER, lw=3.2, zorder=3)
ax.plot(times, t_clim, color=C_CLIM, lw=3.0, zorder=4)
ax.plot(times, t_mean, color=C_MEAN, lw=3.0, zorder=5)

# precipitation lines on the right axis
for rain, col in zip(member_rain, member_colors):
    ax2.plot(times, rain, color=col, lw=0.9, zorder=2)
ax2.plot(times, r_control, color=C_CONTROL, lw=3.0, zorder=3)
ax2.plot(times, r_mean, color=C_MEAN, lw=3.0, zorder=4)
ax2.plot(times, r_oper, color=C_OPER, lw=3.0, zorder=5)

# axes ranges and ticks
ax.set_xlim(pd.Timestamp('2025-05-13 00:00'), pd.Timestamp('2025-05-29 06:00'))
ax.set_ylim(-20, 25)
ax.yaxis.set_major_locator(MultipleLocator(5))
ax.xaxis.set_major_locator(mdates.DayLocator(bymonthday=range(13, 30, 2)))
ax.xaxis.set_minor_locator(mdates.DayLocator(interval=1))
ax.xaxis.set_major_formatter(mdates.DateFormatter('%d%b %Hz'))
ax.tick_params(axis='both', which='both', length=0, colors=TXT, labelsize=8, pad=8)
ax.tick_params(axis='x', pad=5, labelsize=7.5)

ax2.set_ylim(0, 40)
ax2.yaxis.set_major_locator(MultipleLocator(10))
ax2.yaxis.set_minor_locator(MultipleLocator(1))
ax2.tick_params(axis='y', which='major', direction='in', length=6, color='white',
                labelcolor=TXT, labelsize=8, pad=8)
ax2.tick_params(axis='y', which='minor', direction='in', length=4, color='white')

ax.grid(True, axis='y', which='major', color=GRID, linestyle=(0, (4, 4)), lw=0.9)
ax.grid(True, axis='x', which='both', color=GRID, linestyle=(0, (4, 4)), lw=0.9)
ax.set_axisbelow(True)

for a in (ax, ax2):
    for sp in a.spines.values():
        sp.set_color('white')
        sp.set_linewidth(1.0)

ax.set_ylabel('850 hPa Temp. (°C)', color=TXT, fontsize=7.5, labelpad=-6)
ax2.set_ylabel('Neerslag (mm)', color=TXT, fontsize=7.5, labelpad=1)
ax.set_xlabel('Date (UTC)', color=TXT, fontsize=7.5, labelpad=3)

fig.text(0.512, 0.981, 'De Bilt  (NL)  850 hPa Temp. & Neerslag | Tue, 13May2025 06Z',
         ha='center', va='center', color='white', fontsize=11.4, fontweight='bold')
fig.text(0.141, 0.034, 'GFS Ensemble, 52N, 5E', ha='left', va='center', color=TXT, fontsize=11.5)
fig.text(0.934, 0.034, 'Wetterzentrale.de', ha='right', va='center', color=TXT, fontsize=11.5)

# legend: two columns, filled row by row
def proxy(col, lw=1.8):
    return Line2D([0], [0], color=col, lw=lw)

left = [proxy(member_colors[i]) for i in range(0, 30, 2)] + [proxy(C_CONTROL)]
right = [proxy(member_colors[i]) for i in range(1, 30, 2)] + [proxy(C_MEAN)]
left_lbl = [member_names[i] for i in range(0, 30, 2)] + ['Control']
right_lbl = [member_names[i] for i in range(1, 30, 2)] + ['Ens. mean']

leg_kw = dict(frameon=False, fontsize=8, labelcolor='white', handlelength=0.75,
              handletextpad=0.15, borderpad=0, borderaxespad=0, labelspacing=0.45,
              bbox_transform=fig.transFigure, loc='upper left')
leg1 = fig.legend(left + right, left_lbl + right_lbl, ncol=2, columnspacing=0.3,
                  bbox_to_anchor=(0.0, 1 - 35 / 620), **leg_kw)
leg2 = fig.legend([proxy(C_OPER)], ['Oper'], bbox_to_anchor=(0.0, 1 - 298 / 620), **leg_kw)
leg3 = fig.legend([proxy(C_CLIM)], ['1991-2020\nmean'], bbox_to_anchor=(53 / 850, 1 - 287 / 620), **leg_kw)

fig.savefig('out.png', dpi=100, facecolor='black')
